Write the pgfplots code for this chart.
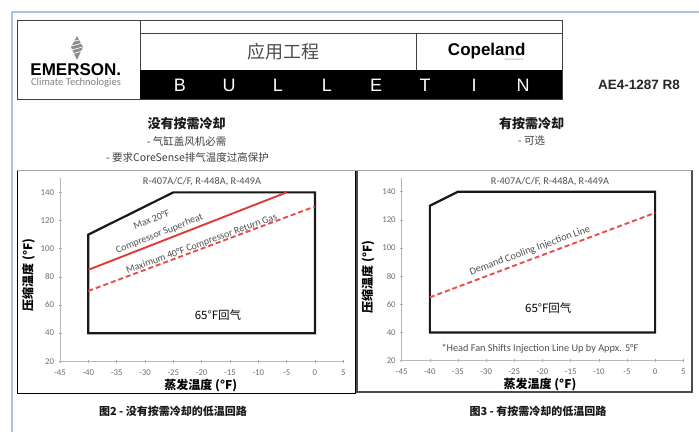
\documentclass[border=0pt]{standalone}
\usepackage{pgfplots}
\pgfplotsset{compat=1.18}
\usepackage{fontspec}
\setmainfont{Noto Sans CJK SC}
\newfontfamily\carlito{Carlito}
\newfontfamily\lib{Liberation Sans}
\definecolor{pageblue}{RGB}{170,196,228}
\definecolor{envred}{RGB}{228,58,52}
\definecolor{dashred}{RGB}{232,78,72}
\definecolor{tickgray}{RGB}{110,110,110}
\definecolor{annogray}{RGB}{80,80,80}
\pgfplotsset{envaxis/.style={
  scale only axis, anchor=south west,
  xmin=-45, xmax=5, ymin=20, ymax=150,
  axis x line*=bottom, axis y line*=left,
  axis line style={black!28, line width=0.8pt, -},
  xtick={-45,-40,-35,-30,-25,-20,-15,-10,-5,0,5},
  xticklabels={-45,-40,-35,-30,-25,-20,-15,-10,-5,0,5},
  ytick={20,40,60,80,100,120,140},
  yticklabels={20,40,60,80,100,120,140},
  tick style={black!35, line width=0.6pt},
  major tick length=3pt, tick align=center,
  ticklabel style={font=\carlito\fontsize{8.8}{9}\selectfont, text=tickgray},
  xticklabel style={yshift=-3.5pt},
  yticklabel style={xshift=-1pt},
  clip=false}}
\begin{document}
\begin{tikzpicture}
\begin{scope}[x=1pt,y=-1pt]
\fill[white] (0,0) rectangle (699,432);
\path[use as bounding box] (0,0) rectangle (699,432);
% page border
\draw[pageblue, line width=1.6pt] (11.7,432) -- (11.7,11.7) -- (699,11.7);
% header box
\draw[black!75, line width=0.8pt] (17.3,20.7) rectangle (562,99.3);
\draw[black!75, line width=0.8pt] (140,20.7) -- (140,99.3);
\draw[black!75, line width=0.8pt] (140,33.3) -- (562,33.3);
\draw[black!75, line width=0.8pt] (416.7,33.3) -- (416.7,70);
\fill[black] (140,70) rectangle (562,99.3);
% Emerson logo
\fill[black!45] (77,36) -- (83,47) -- (77,60) -- (71,47) -- cycle;
\foreach \k in {0,1,2,3} {\draw[white, line width=0.7pt] (71.5,{42+\k*4}) -- (82.5,{39+\k*4});}
\node[inner sep=0] at (75.8,69.5) {\lib\bfseries\fontsize{17}{17}\selectfont EMERSON.};
\node[inner sep=0, text=black!50] at (76,82.7) {\carlito\fontsize{10.5}{11}\selectfont Climate Technologies};
\node[inner sep=0, text=black!70] at (283,52) {\fontsize{18}{18}\selectfont 应用工程};
\node[inner sep=0] at (486.7,51) {\lib\bfseries\fontsize{17}{17}\selectfont Copeland};
\node[inner sep=0, text=black!50] at (514,60) {\carlito\fontsize{3}{3}\selectfont Scroll products};
\foreach \c [count=\i from 0] in {B,U,L,L,E,T,I,N} {
  \node[inner sep=0, text=white] at ({180+\i*49},85) {\lib\fontsize{18}{18}\selectfont \c};}
\node[inner sep=0, text=black!85] at (639,85) {\lib\bfseries\fontsize{13.5}{14}\selectfont AE4-1287 R8};
% subtitles
\node[inner sep=0, text=black!90] at (186.7,124) {\bfseries\fontsize{13}{13}\selectfont 没有按需冷却};
\node[inner sep=0, text=black!75] at (186.7,141) {\fontsize{10.5}{11}\selectfont - 气缸盖风机必需};
\node[inner sep=0, text=black!75] at (187.5,157) {\fontsize{10.5}{11}\selectfont - 要求CoreSense排气温度过高保护};
\node[inner sep=0, text=black!90] at (531.7,124) {\bfseries\fontsize{13}{13}\selectfont 有按需冷却};
\node[inner sep=0, text=black!75] at (531.7,141) {\fontsize{10.5}{11}\selectfont - 可选};
% chart boxes
\draw[black, line width=1.6pt] (17.3,170.5) rectangle (355.5,393.3);
\draw[black!70, line width=1.4pt] (356.8,170.5) rectangle (692,392);
\draw[black!35, line width=1.4pt] (17.3,170.5) -- (692,170.5);
% captions
\node[inner sep=0, text=black!90] at (173,411) {\bfseries\fontsize{11}{11}\selectfont 图2 - 没有按需冷却的低温回路};
\node[inner sep=0, text=black!90] at (538,411) {\bfseries\fontsize{11}{11}\selectfont 图3 - 有按需冷却的低温回路};
\end{scope}

% left chart
\begin{axis}[envaxis, at={(60pt,-361.3pt)}, width=283.3pt, height=183pt]
\addplot[black!90, line width=2.2pt, line join=miter] coordinates {(-40,40) (-40,110) (-25,140) (0,140) (0,40)} -- cycle;
\addplot[envred, line width=1.9pt] coordinates {(-40,85) (-5,140)};
\addplot[dashred, line width=1.9pt, dash pattern=on 5pt off 3pt] coordinates {(-40,70) (0,130)};
\end{axis}

% right chart
\begin{axis}[envaxis, at={(401.7pt,-360.7pt)}, width=281.6pt, height=183.1pt]
\addplot[black!90, line width=2.2pt, line join=miter] coordinates {(-40,40) (-40,130) (-35,140) (0,140) (0,40)} -- cycle;
\addplot[dashred, line width=1.9pt, dash pattern=on 5pt off 3pt] coordinates {(-40,65) (0,125)};
\end{axis}

\begin{scope}[x=1pt,y=-1pt]
% left chart texts
\node[inner sep=0, text=annogray] at (202,182) {\carlito\fontsize{10.3}{10}\selectfont R-407A/C/F, R-448A, R-449A};
\node[inner sep=0, text=annogray, rotate=22] at (151.5,219.5) {\carlito\fontsize{10}{10}\selectfont Max 20°F};
\node[inner sep=0, text=annogray, rotate=22] at (159.5,234) {\carlito\fontsize{10}{10}\selectfont Compressor Superheat};
\node[inner sep=0, text=annogray, rotate=20] at (201.7,244) {\carlito\fontsize{10}{10}\selectfont Maximum 40°F Compressor Return Gas};
\node[inner sep=0] at (218,315) {\fontsize{11.5}{12}\selectfont 65°F回气};
\node[inner sep=0, rotate=90] at (28.3,275) {\bfseries\fontsize{12}{12}\selectfont 压缩温度 (°F)};
\node[inner sep=0] at (200.8,385.5) {\bfseries\fontsize{12}{12}\selectfont 蒸发温度 (°F)};
% right chart texts
\node[inner sep=0, text=annogray] at (550,181.7) {\carlito\fontsize{10.3}{10}\selectfont R-407A/C/F, R-448A, R-449A};
\node[inner sep=0, text=annogray, rotate=20] at (530,250.7) {\carlito\fontsize{10.3}{10}\selectfont Demand Cooling Injection Line};
\node[inner sep=0] at (548.3,308.3) {\fontsize{11.5}{12}\selectfont 65°F回气};
\node[inner sep=0, text=annogray] at (540,348.3) {\carlito\fontsize{10.3}{10}\selectfont *Head Fan Shifts Injection Line Up by Appx. 5°F};
\node[inner sep=0, rotate=90] at (368,277) {\bfseries\fontsize{12}{12}\selectfont 压缩温度 (°F)};
\node[inner sep=0] at (540,384.5) {\bfseries\fontsize{12}{12}\selectfont 蒸发温度 (°F)};
\end{scope}
\end{tikzpicture}
\end{document}
